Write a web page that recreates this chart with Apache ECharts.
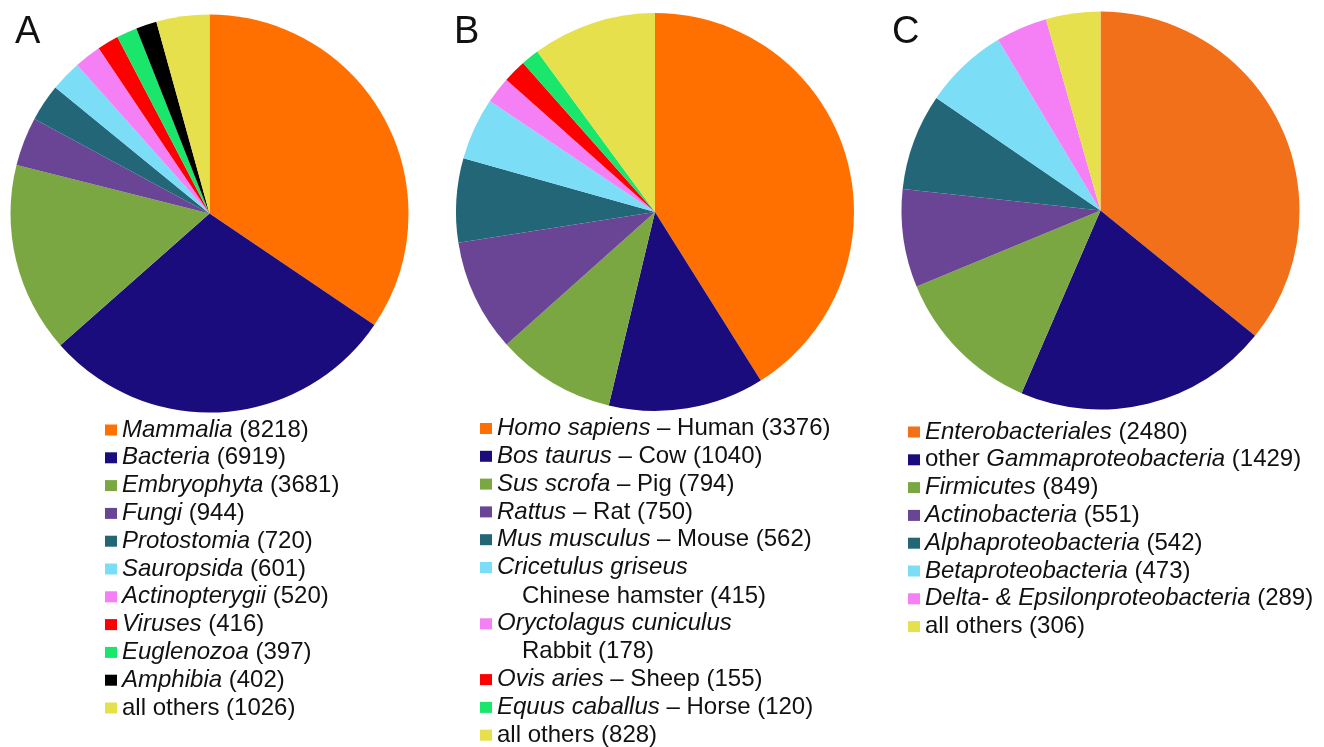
<!DOCTYPE html>
<html>
<head>
<meta charset="utf-8">
<script src="https://cdn.jsdelivr.net/npm/echarts@6/dist/echarts.min.js"></script>
<style>
html,body{margin:0;padding:0;background:#fff;}
#chart{width:1324px;height:747px;}
</style>
</head>
<body>
<div id="chart"></div>
<script>
// ---- Data ----
const panelLetters = ['A', 'B', 'C'];

const groupsA = ['Mammalia', 'Bacteria', 'Embryophyta', 'Fungi', 'Protostomia', 'Sauropsida', 'Actinopterygii', 'Viruses', 'Euglenozoa', 'Amphibia', 'all others'];
const countsA = [8218, 6919, 3681, 944, 720, 601, 520, 416, 397, 402, 1026];

const groupsB = ['Homo sapiens', 'Bos taurus', 'Sus scrofa', 'Rattus', 'Mus musculus', 'Cricetulus griseus', 'Oryctolagus cuniculus', 'Ovis aries', 'Equus caballus', 'all others'];
const commonB = ['Human', 'Cow', 'Pig', 'Rat', 'Mouse', 'Chinese hamster', 'Rabbit', 'Sheep', 'Horse', ''];
const countsB = [3376, 1040, 794, 750, 562, 415, 178, 155, 120, 828];

const groupsC = ['Enterobacteriales', 'other Gammaproteobacteria', 'Firmicutes', 'Actinobacteria', 'Alphaproteobacteria', 'Betaproteobacteria', 'Delta- & Epsilonproteobacteria', 'all others'];
const countsC = [2480, 1429, 849, 551, 542, 473, 289, 306];

// ---- Styles ----
const colorsA = ['#FF7000', '#1B0C7D', '#7BA743', '#6A4595', '#226677', '#7BDDF6', '#F57FF5', '#FF0000', '#1AE66B', '#000000', '#E6E04C'];
const colorsB = ['#FF7000', '#1B0C7D', '#7BA743', '#6A4595', '#226677', '#7BDDF6', '#F57FF5', '#FF0000', '#1AE66B', '#E6E04C'];
const colorsC = ['#F27019', '#1B0C7D', '#7BA743', '#6A4595', '#226677', '#7BDDF6', '#F57FF5', '#E6E04C'];

const FONT = '"Liberation Sans", Arial, Helvetica, sans-serif';
const FS = 24;
const LH = 27.8;

const chart = echarts.init(document.getElementById('chart'), null, {renderer: 'canvas'});

function mkData(names, vals, colors) {
  return names.map((n, i) => ({name: n, value: vals[i], itemStyle: {color: colors[i]}}));
}

function pie(id, names, vals, colors, cx, cy, r) {
  return {
    type: 'pie', id: id, name: 'pie' + id,
    center: [cx, cy], radius: r,
    startAngle: 90, clockwise: true,
    data: mkData(names, vals, colors),
    label: {show: false}, labelLine: {show: false},
    itemStyle: {borderWidth: 0},
    emphasis: {disabled: true, scale: false},
    silent: true, animation: false
  };
}

function fmtA(name) {
  const v = countsA[groupsA.indexOf(name)];
  if (name === 'all others') return name + ' (' + v + ')';
  return '{i|' + name + '} (' + v + ')';
}
function fmtB(name) {
  const i = groupsB.indexOf(name);
  const v = countsB[i];
  if (name === 'all others') return name + ' (' + v + ')';
  if (i === 5 || i === 6) return '{i|' + name + '}'; // continuation line drawn separately
  return '{i|' + name + '} \u2013 ' + commonB[i] + ' (' + v + ')';
}
function fmtC(name) {
  const v = countsC[groupsC.indexOf(name)];
  if (name === 'all others') return name + ' (' + v + ')';
  if (name.indexOf('other ') === 0) return 'other {i|' + name.slice(6) + '} (' + v + ')';
  return '{i|' + name + '} (' + v + ')';
}

const textBase = {fontFamily: FONT, fontSize: FS, color: '#111', lineHeight: LH,
  rich: {i: {fontFamily: FONT, fontSize: FS, fontStyle: 'italic', color: '#111', lineHeight: LH}}};

function legend(names, left, centerY, fmt) {
  return {
    orient: 'vertical', left: left, top: centerY - LH / 2, padding: 0,
    width: 420, height: 340,
    itemWidth: 12, itemHeight: 11, itemGap: 0, icon: 'rect',
    data: names, formatter: fmt, textStyle: textBase,
    selectedMode: false
  };
}

const rowB = 27.9;
const b0 = 428.5;

const letterStyle = {fontFamily: FONT, fontSize: 38, fontWeight: 'normal', color: '#111', lineHeight: 38};
const lineStyle = {fontFamily: FONT, fontSize: FS, fontWeight: 'normal', color: '#111', lineHeight: LH};

const option = {
  backgroundColor: '#ffffff',
  animation: false,
  title: [
    {text: panelLetters[0], left: 15, top: 14, padding: 0, textStyle: letterStyle},
    {text: panelLetters[1], left: 454, top: 14, padding: 0, textStyle: letterStyle},
    {text: panelLetters[2], left: 892, top: 14, padding: 0, textStyle: letterStyle},
    {text: commonB[5] + ' (' + countsB[5] + ')', left: 522, top: b0 + 6 * rowB - LH / 2, padding: 0, textStyle: lineStyle},
    {text: commonB[6] + ' (' + countsB[6] + ')', left: 522, top: b0 + 8 * rowB - LH / 2, padding: 0, textStyle: lineStyle}
  ],
  legend: [
    legend(groupsA, 105, 430, fmtA),
    legend(groupsB.slice(0, 6), 480, b0, fmtB),
    legend(groupsB.slice(6, 7), 480, b0 + 7 * rowB, fmtB),
    legend(groupsB.slice(7), 480, b0 + 9 * rowB, fmtB),
    legend(groupsC, 908, 432, fmtC)
  ],
  series: [
    pie('A', groupsA, countsA, colorsA, 209.5, 213.5, 199),
    pie('B', groupsB, countsB, colorsB, 655, 212, 199),
    pie('C', groupsC, countsC, colorsC, 1100.5, 210.5, 199)
  ]
};
chart.setOption(option);
</script>
</body>
</html>
